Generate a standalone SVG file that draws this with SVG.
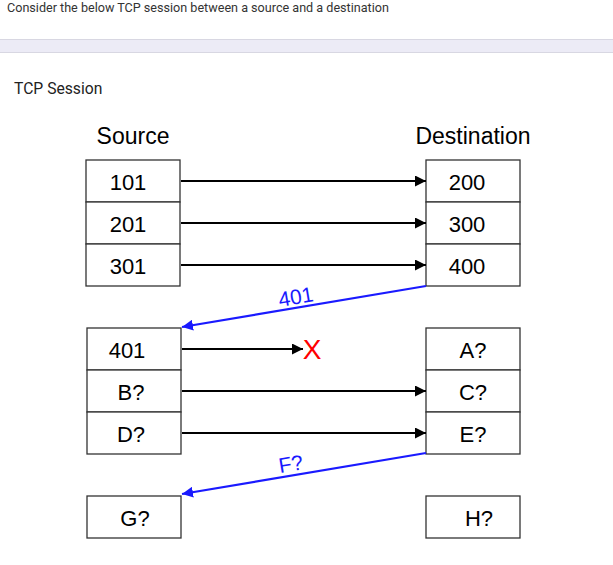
<svg xmlns="http://www.w3.org/2000/svg" width="613" height="565" viewBox="0 0 613 565">
<style>
.box{fill:#fff;stroke:#333;stroke-width:1.3}
.t{font-family:"Liberation Sans",Arial,sans-serif;font-size:22px;fill:#000;text-anchor:middle}
.h{font-family:"Liberation Sans",Arial,sans-serif;font-size:23px;fill:#000;text-anchor:middle}
.k{stroke:#000;stroke-width:2;fill:none}
.b{stroke:#1a1aff;stroke-width:2.2;fill:none}
.bl{font-family:"Liberation Sans",Arial,sans-serif;font-size:21px;fill:#1a1aff;text-anchor:middle}
</style>
<defs>
<marker id="ak" viewBox="0 0 10 10" refX="10" refY="5" markerWidth="5.5" markerHeight="5.5" markerUnits="strokeWidth" orient="auto"><path d="M0,0L10,5L0,10z" fill="#000"/></marker>
<marker id="ab" viewBox="0 0 10 10" refX="10" refY="5" markerWidth="5" markerHeight="5" markerUnits="strokeWidth" orient="auto"><path d="M0,0L10,5L0,10z" fill="#1a1aff"/></marker>
</defs>
<rect width="613" height="565" fill="#fff"/>
<text x="7" y="12" font-family="Roboto,'Liberation Sans',sans-serif" font-size="12.6" fill="#333">Consider the below TCP session between a source and a destination</text>
<rect x="0" y="39" width="613" height="13" fill="#ecebf6"/>
<line x1="0" y1="39.5" x2="613" y2="39.5" stroke="#d8d7e2"/>
<line x1="0" y1="52.5" x2="613" y2="52.5" stroke="#d8d7e2"/>
<text x="14" y="94" font-family="Roboto,'Liberation Sans',sans-serif" font-size="15.7" fill="#222">TCP Session</text>
<text class="h" x="133" y="144">Source</text>
<text class="h" x="473" y="144">Destination</text>
<g id="s101"><rect class="box" x="86" y="160" width="94" height="42"/><text class="t" x="128" y="190">101</text></g>
<g id="s201"><rect class="box" x="86" y="202" width="94" height="42"/><text class="t" x="128" y="232">201</text></g>
<g id="s301"><rect class="box" x="86" y="244" width="94" height="42"/><text class="t" x="128" y="274">301</text></g>
<g id="d200"><rect class="box" x="426" y="160" width="94" height="42"/><text class="t" x="467" y="190">200</text></g>
<g id="d300"><rect class="box" x="426" y="202" width="94" height="42"/><text class="t" x="467" y="232">300</text></g>
<g id="d400"><rect class="box" x="426" y="244" width="94" height="42"/><text class="t" x="467" y="274">400</text></g>
<g id="s401"><rect class="box" x="87" y="328" width="94" height="42"/><text class="t" x="127" y="358">401</text></g>
<g id="sB"><rect class="box" x="87" y="370" width="94" height="42"/><text class="t" x="131" y="400">B?</text></g>
<g id="sD"><rect class="box" x="87" y="412" width="94" height="42"/><text class="t" x="131" y="442">D?</text></g>
<g id="sG"><rect class="box" x="87" y="496" width="94" height="42"/><text class="t" x="135" y="526">G?</text></g>
<g id="dA"><rect class="box" x="426" y="328" width="94" height="42"/><text class="t" x="473" y="358">A?</text></g>
<g id="dC"><rect class="box" x="426" y="370" width="94" height="42"/><text class="t" x="473" y="400">C?</text></g>
<g id="dE"><rect class="box" x="426" y="412" width="94" height="42"/><text class="t" x="473" y="442">E?</text></g>
<g id="dH"><rect class="box" x="426" y="496" width="94" height="42"/><text class="t" x="479" y="526">H?</text></g>
<g id="connectors">
<line class="k" x1="181" y1="181" x2="426" y2="181" marker-end="url(#ak)"/>
<line class="k" x1="181" y1="223" x2="426" y2="223" marker-end="url(#ak)"/>
<line class="k" x1="181" y1="265" x2="426" y2="265" marker-end="url(#ak)"/>
<line class="k" x1="182" y1="349" x2="303" y2="349" marker-end="url(#ak)"/>
<line class="k" x1="182" y1="391" x2="426" y2="391" marker-end="url(#ak)"/>
<line class="k" x1="182" y1="433" x2="426" y2="433" marker-end="url(#ak)"/>
<line class="b" x1="426" y1="286" x2="182" y2="327" marker-end="url(#ab)"/>
<line class="b" x1="426" y1="453" x2="182" y2="494" marker-end="url(#ab)"/>
<text class="bl" transform="translate(297,304) rotate(-9.5)">401</text>
<text class="bl" transform="translate(292,471) rotate(-9.5)">F?</text>
<text x="312" y="359" font-family="'Liberation Sans',Arial,sans-serif" font-size="28" fill="#ff0000" text-anchor="middle">X</text>
</g>
</svg>
